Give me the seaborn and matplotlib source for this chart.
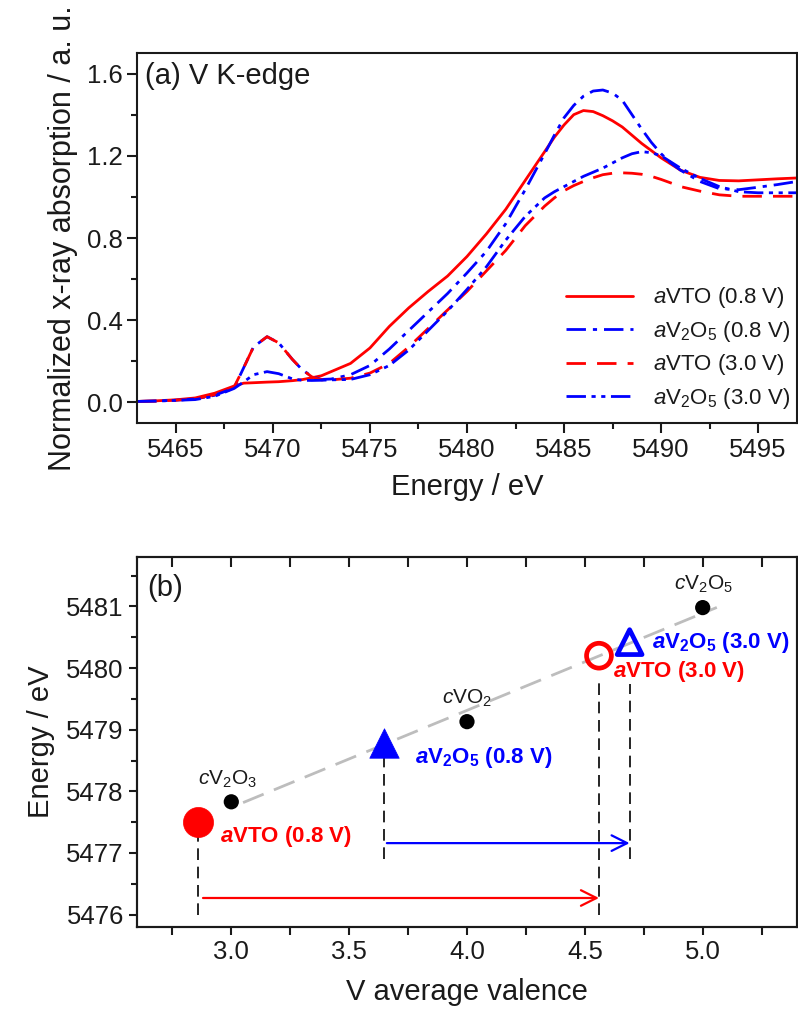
import numpy as np
import pandas as pd
import matplotlib
matplotlib.use("Agg")
import matplotlib.pyplot as plt
from matplotlib.ticker import MultipleLocator, FormatStrFormatter, NullFormatter
import seaborn as sns

# ---------------- data: panel (a) ----------------
energy = [5463, 5464, 5465, 5466, 5467, 5468, 5468.5, 5469, 5469.7, 5470.3,
          5471, 5471.5, 5472, 5472.5, 5473, 5474, 5475, 5476, 5477, 5478,
          5479, 5480, 5481, 5482, 5483, 5484,
          5484.5, 5485, 5485.5, 5486, 5486.5, 5487, 5487.5, 5488, 5488.5,
          5489, 5489.5, 5490, 5490.5,
          5491, 5492, 5493, 5494, 5495, 5496, 5497]

avto_08 = [0.005, 0.008, 0.013, 0.022, 0.045, 0.080, 0.094, 0.096, 0.099, 0.101,
           0.106, 0.111, 0.120, 0.130, 0.150, 0.190, 0.265, 0.370, 0.460, 0.540,
           0.615, 0.710, 0.820, 0.940, 1.080, 1.220,
           1.290, 1.350, 1.400, 1.420, 1.415, 1.395, 1.370, 1.340, 1.300,
           1.260, 1.225, 1.190, 1.160,
           1.130, 1.095, 1.080, 1.078, 1.083, 1.088, 1.092]

av2o5_08 = [0.005, 0.007, 0.011, 0.017, 0.035, 0.070, 0.170, 0.270, 0.320, 0.290,
            0.210, 0.160, 0.127, 0.112, 0.114, 0.135, 0.180, 0.260, 0.350, 0.440,
            0.530, 0.630, 0.735, 0.870, 1.035, 1.210,
            1.300, 1.385, 1.445, 1.490, 1.515, 1.520, 1.505, 1.470, 1.400,
            1.330, 1.265, 1.210, 1.165,
            1.130, 1.075, 1.040, 1.035, 1.047, 1.060, 1.075]

avto_30 = [0.005, 0.007, 0.011, 0.018, 0.038, 0.075, 0.170, 0.270, 0.320, 0.290,
           0.210, 0.160, 0.125, 0.110, 0.110, 0.118, 0.143, 0.190, 0.270, 0.360,
           0.450, 0.540, 0.640, 0.740, 0.860, 0.955,
           0.995, 1.030, 1.055, 1.075, 1.093, 1.108, 1.115, 1.117, 1.115,
           1.110, 1.100, 1.085, 1.068,
           1.050, 1.028, 1.010, 1.003, 1.003, 1.003, 1.003]

av2o5_30 = [0.005, 0.007, 0.010, 0.014, 0.030, 0.068, 0.100, 0.135, 0.150, 0.140,
            0.115, 0.108, 0.107, 0.108, 0.110, 0.112, 0.135, 0.180, 0.255, 0.350,
            0.445, 0.550, 0.660, 0.790, 0.905, 0.995,
            1.025, 1.050, 1.075, 1.100, 1.120, 1.140, 1.165, 1.190, 1.210,
            1.220, 1.215, 1.200, 1.170,
            1.140, 1.090, 1.050, 1.025, 1.020, 1.020, 1.020]

legend_labels = [r"$\mathit{a}$VTO (0.8 V)",
                 r"$\mathit{a}$V$_2$O$_5$ (0.8 V)",
                 r"$\mathit{a}$VTO (3.0 V)",
                 r"$\mathit{a}$V$_2$O$_5$ (3.0 V)"]

# ---------------- data: panel (b) ----------------
ref_valence = [3.0, 4.0, 5.0]
ref_energy = [5477.83, 5479.13, 5480.98]
ref_labels = [r"$\mathit{c}$V$_2$O$_3$", r"$\mathit{c}$VO$_2$", r"$\mathit{c}$V$_2$O$_5$"]

sample_names = ["aVTO (0.8 V)", "aV2O5 (0.8 V)", "aVTO (3.0 V)", "aV2O5 (3.0 V)"]
sample_valence = [2.86, 3.65, 4.56, 4.69]
sample_energy = [5477.50, 5478.78, 5480.20, 5480.42]
sample_labels = [r"$\mathbfit{a}$VTO (0.8 V)",
                 r"$\mathbfit{a}\mathbf{V_2O_5}$ (0.8 V)",
                 r"$\mathbfit{a}$VTO (3.0 V)",
                 r"$\mathbfit{a}\mathbf{V_2O_5}$ (3.0 V)"]

# ---------------- style ----------------
sns.set_theme(style="ticks")
plt.rcParams["font.family"] = ["Liberation Sans", "DejaVu Sans"]
plt.rcParams["mathtext.fontset"] = "custom"
plt.rcParams["mathtext.rm"] = "Liberation Sans"
plt.rcParams["mathtext.it"] = "Liberation Sans:italic"
plt.rcParams["mathtext.bf"] = "Liberation Sans:bold"
plt.rcParams["mathtext.bfit"] = "Liberation Sans:italic:bold"
plt.rcParams["axes.linewidth"] = 1.5

RED = "#ff0000"
BLUE = "#0000ff"
INK = "#1a1a1a"
TICK_FS = 18.5

fig = plt.figure(figsize=(7.98, 10.27), dpi=100)
ax1 = fig.add_axes([0.1717, 0.5881, 0.9987 - 0.1717, 0.9484 - 0.5881])
ax2 = fig.add_axes([0.1717, 0.0974, 0.9987 - 0.1717, 0.4576 - 0.0974])

# ---------------- panel (a) ----------------
df_a = pd.DataFrame({"E": energy, "avto08": avto_08, "av2o508": av2o5_08,
                     "avto30": avto_30, "av2o530": av2o5_30})
styles = [("avto08", RED, "-"),
          ("av2o508", BLUE, (0, (7, 2.5, 1.5, 2.5))),
          ("avto30", RED, (0, (7, 4))),
          ("av2o530", BLUE, (0, (7, 2, 1.5, 2, 1.5, 2)))]
for (col, color, ls), lab in zip(styles, legend_labels):
    sns.lineplot(data=df_a, x="E", y=col, ax=ax1, color=color, linestyle=ls,
                 linewidth=2.0, label=lab)

ax1.set_xlim(5463, 5497)
ax1.set_ylim(-0.1, 1.7)
ax1.xaxis.set_major_locator(MultipleLocator(5))
ax1.xaxis.set_minor_locator(MultipleLocator(2.5))
ax1.yaxis.set_major_locator(MultipleLocator(0.4))
ax1.yaxis.set_minor_locator(MultipleLocator(0.2))
ax1.yaxis.set_major_formatter(FormatStrFormatter("%.1f"))
ax1.tick_params(axis="both", which="major", direction="out", length=7, width=1.5,
                labelsize=TICK_FS, colors=INK, labelcolor=INK)
ax1.tick_params(axis="both", which="minor", direction="out", length=4, width=1.5,
                colors=INK)
ax1.set_xlabel("Energy / eV", fontsize=21, labelpad=8, color=INK)
ax1.set_ylabel("Normalized x-ray absorption / a. u.", fontsize=22, labelpad=6,
               color=INK)
ax1.text(0.012, 0.975, "(a) V K-edge", transform=ax1.transAxes, fontsize=21,
         ha="left", va="top", color=INK)
leg = ax1.legend(loc="lower right", bbox_to_anchor=(1.008, 0.0), frameon=False,
                 fontsize=16, handlelength=3.0, handletextpad=0.9,
                 labelspacing=0.38, borderaxespad=0.15)
for t in leg.get_texts():
    t.set_color(INK)
for sp in ax1.spines.values():
    sp.set_color(INK)

# ---------------- panel (b) ----------------
df_ref = pd.DataFrame({"valence": ref_valence, "energy": ref_energy})
slope, intercept = np.polyfit(ref_valence, ref_energy, 1)
fit_x = np.array([ref_valence[0] + 0.05, ref_valence[-1] + 0.06])
df_fit = pd.DataFrame({"valence": fit_x, "energy": slope * fit_x + intercept})
sns.lineplot(data=df_fit, x="valence", y="energy", ax=ax2, color="#bdbdbd",
             linestyle=(0, (8, 4)), linewidth=2.0, zorder=1)
sns.scatterplot(data=df_ref, x="valence", y="energy", ax=ax2, color="black",
                s=120, edgecolor="none", zorder=3)
ref_offsets = [(-0.015, 0.37), (0.0, 0.38), (0.005, 0.37)]
for xv, yv, lab, (dx, dy) in zip(ref_valence, ref_energy, ref_labels, ref_offsets):
    ax2.text(xv + dx, yv + dy, lab, fontsize=15, ha="center", va="center",
             color=INK)

df_s = pd.DataFrame({"name": sample_names, "valence": sample_valence,
                     "energy": sample_energy})
marker_styles = [("o", RED, True, 470), ("^", BLUE, True, 450),
                 ("o", RED, False, 320), ("^", BLUE, False, 320)]
for i, (mk, color, filled, size) in enumerate(marker_styles):
    sub = df_s.iloc[[i]]
    if filled:
        sns.scatterplot(data=sub, x="valence", y="energy", ax=ax2, marker=mk,
                        s=size, color=color, edgecolor=color, linewidth=0.5,
                        zorder=4)
    else:
        sns.scatterplot(data=sub, x="valence", y="energy", ax=ax2, marker=mk,
                        s=size, facecolor="none", edgecolor=color, linewidth=3.4,
                        zorder=4)

label_pos = [(2.95, 5477.27), (3.78, 5478.55), (4.62, 5479.94), (4.785, 5480.42)]
label_colors = [RED, BLUE, RED, BLUE]
for (lx, ly), lab, c in zip(label_pos, sample_labels, label_colors):
    ax2.text(lx, ly, lab, fontsize=16, fontweight="bold", color=c,
             ha="left", va="center")

# vertical drop lines and shift arrows (from sample positions)
drop_top = [5477.27, 5478.69, 5479.82, 5479.74]
drop_bottom = [5476.0, 5476.9, 5476.0, 5476.9]
for xv, yt, yb in zip(sample_valence, drop_top, drop_bottom):
    ax2.plot([xv, xv], [yb, yt], color="black", linewidth=1.2,
             linestyle=(0, (7, 4)), zorder=2)

arrow_levels = [5476.27, 5477.16]
ax2.annotate("", xy=(sample_valence[2], arrow_levels[0]),
             xytext=(sample_valence[0] + 0.02, arrow_levels[0]),
             arrowprops=dict(arrowstyle="->", color=RED, lw=1.6,
                             mutation_scale=28, shrinkA=0, shrinkB=0))
ax2.annotate("", xy=(sample_valence[3], arrow_levels[1]),
             xytext=(sample_valence[1] + 0.01, arrow_levels[1]),
             arrowprops=dict(arrowstyle="->", color=BLUE, lw=1.6,
                             mutation_scale=28, shrinkA=0, shrinkB=0))

ax2.set_xlim(2.6, 5.4)
ax2.set_ylim(5475.8, 5481.8)
ax2.xaxis.set_major_locator(MultipleLocator(0.5))
ax2.xaxis.set_minor_locator(MultipleLocator(0.25))
ax2.yaxis.set_major_locator(MultipleLocator(1))
ax2.yaxis.set_minor_locator(MultipleLocator(0.5))
ax2.xaxis.set_major_formatter(FormatStrFormatter("%.1f"))
ax2.yaxis.set_major_formatter(FormatStrFormatter("%d"))
ax2.tick_params(axis="both", which="major", direction="out", length=6, width=1.5,
                labelsize=TICK_FS, colors=INK, labelcolor=INK)
ax2.tick_params(axis="both", which="minor", direction="out", length=4, width=1.5,
                colors=INK)
ax2.tick_params(axis="x", which="minor", length=6)

ax2.set_xlabel("V average valence", fontsize=21, labelpad=10, color=INK)
ax2.set_ylabel("Energy / eV", fontsize=21, labelpad=8, color=INK)
ax2.text(0.015, 0.955, "(b)", transform=ax2.transAxes, fontsize=21,
         ha="left", va="top", color=INK)
for sp in ax2.spines.values():
    sp.set_color(INK)
if ax2.get_legend() is not None:
    ax2.get_legend().remove()

# inward ticks along the top edge (twin axis sharing the valence scale)
top = ax2.twiny()
top.set_xlim(ax2.get_xlim())
top.xaxis.set_major_locator(MultipleLocator(0.25))
top.xaxis.set_major_formatter(NullFormatter())
top.tick_params(axis="x", which="major", direction="in", length=7, width=1.5,
                colors=INK, top=True, bottom=False, labeltop=False)
top.patch.set_visible(False)
for sp in top.spines.values():
    sp.set_color(INK)
    sp.set_linewidth(1.5)

fig.savefig("out.png", dpi=100)
